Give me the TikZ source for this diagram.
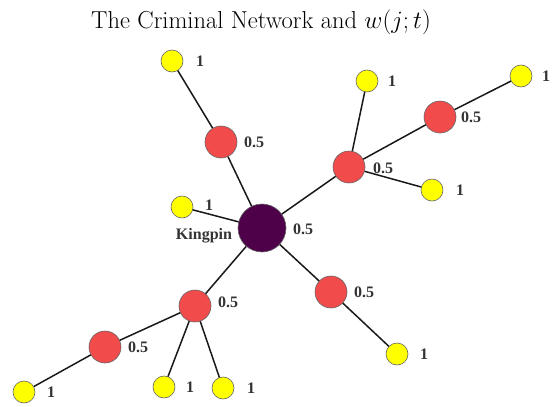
\documentclass[tikz,border=0pt]{standalone}
\usepackage{fontspec}
\newfontfamily\labfont{Liberation Serif}
\definecolor{kingc}{HTML}{4E0048}
\definecolor{redc}{HTML}{F24B4B}
\definecolor{yelc}{HTML}{FFFF00}
\definecolor{labc}{HTML}{333333}
\begin{document}
\begin{tikzpicture}[x=1pt,y=-1pt,
  king/.style={circle,draw=black!60,line width=0.6pt,fill=kingc,minimum size=48pt,inner sep=0pt},
  redn/.style={circle,draw=black!60,line width=0.6pt,fill=redc,minimum size=32pt,inner sep=0pt},
  yeln/.style={circle,draw=black!60,line width=0.6pt,fill=yelc,minimum size=22pt,inner sep=0pt},
  lab/.style={font=\labfont\bfseries\fontsize{16}{17}\selectfont,text=labc,inner sep=0pt},
  edge/.style={line width=1.5pt,draw=black!90}]
\useasboundingbox (0,0) rectangle (558,407);
\node[font=\fontsize{24.5}{28}\selectfont] (title) at (261,22) {The Criminal Network and $w(j;t)$};
\coordinate (pK) at (262,228);
\coordinate (pR1) at (221,142);
\coordinate (pR2) at (349,167);
\coordinate (pR3) at (440,117);
\coordinate (pR4) at (331,292);
\coordinate (pR5) at (195,306);
\coordinate (pR6) at (105,347);
\coordinate (pY1) at (172,61);
\coordinate (pY2) at (367,81);
\coordinate (pY3) at (521,76);
\coordinate (pY4) at (432,190);
\coordinate (pY5) at (182,207);
\coordinate (pY6) at (397,354);
\coordinate (pY7) at (164,387);
\coordinate (pY8) at (223,388);
\coordinate (pY9) at (24,392);
% edges first
\draw[edge] (pK) -- (pR1) (pK) -- (pR2) (pK) -- (pY5) (pK) -- (pR4) (pK) -- (pR5)
  (pR1) -- (pY1) (pR2) -- (pY2) (pR2) -- (pR3) (pR2) -- (pY4) (pR3) -- (pY3)
  (pR4) -- (pY6) (pR5) -- (pR6) (pR5) -- (pY7) (pR5) -- (pY8) (pR6) -- (pY9);
\node[king] (K) at (pK) {};
\node[redn] (R1) at (pR1) {};
\node[redn] (R2) at (pR2) {};
\node[redn] (R3) at (pR3) {};
\node[redn] (R4) at (pR4) {};
\node[redn] (R5) at (pR5) {};
\node[redn] (R6) at (pR6) {};
\node[yeln] (Y1) at (pY1) {};
\node[yeln] (Y2) at (pY2) {};
\node[yeln] (Y3) at (pY3) {};
\node[yeln] (Y4) at (pY4) {};
\node[yeln] (Y5) at (pY5) {};
\node[yeln] (Y6) at (pY6) {};
\node[yeln] (Y7) at (pY7) {};
\node[yeln] (Y8) at (pY8) {};
\node[yeln] (Y9) at (pY9) {};
% labels
\node[lab] (lK) at (204,236) {Kingpin};
\node[lab] (lKv) at (303,229) {0.5};
\node[lab] (lR1) at (254,142) {0.5};
\node[lab] (lR2) at (383,168) {0.5};
\node[lab] (lR3) at (471,117) {0.5};
\node[lab] (lR4) at (364,292) {0.5};
\node[lab] (lR5) at (228,302) {0.5};
\node[lab] (lR6) at (138,347) {0.5};
\node[lab] (lY1) at (200,61) {1};
\node[lab] (lY2) at (392,81) {1};
\node[lab] (lY3) at (546,76) {1};
\node[lab] (lY4) at (460,190) {1};
\node[lab] (lY5) at (209,205) {1};
\node[lab] (lY6) at (424,354) {1};
\node[lab] (lY7) at (190,387) {1};
\node[lab] (lY8) at (251,388) {1};
\node[lab] (lY9) at (51,392) {1};
\end{tikzpicture}
\end{document}
